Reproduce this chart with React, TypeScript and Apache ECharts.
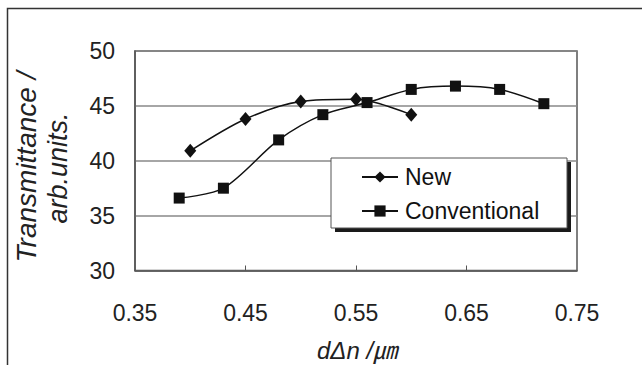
import React, { useEffect, useRef } from "react";
import * as echarts from "echarts";

const newX = [0.4, 0.45, 0.5, 0.55, 0.6];
const newY = [40.9, 43.8, 45.4, 45.6, 44.2];
const convX = [0.39, 0.43, 0.48, 0.52, 0.56, 0.6, 0.64, 0.68, 0.72];
const convY = [36.6, 37.5, 41.9, 44.2, 45.3, 46.5, 46.8, 46.5, 45.2];
const xLabelValues = [0.35, 0.45, 0.55, 0.65, 0.75];
const xTickValues = [0.45, 0.55, 0.65];
const seriesNames = ["New", "Conventional"];
const xTitle = "dΔn /㎛";
const yTitle = ["Transmittance /", "arb.units."];

const FONT = "'Liberation Sans', Arial, 'Noto Sans CJK JP', sans-serif";

export default function App() {
  const ref = useRef<HTMLDivElement>(null);
  useEffect(() => {
    if (!ref.current) return;
    const chart = echarts.init(ref.current, null, { renderer: "svg" });
    const pair = (xs: number[], ys: number[]) => xs.map((x, i) => [x, ys[i]]);
    chart.setOption({
      animation: false,
      backgroundColor: "#fff",
      textStyle: { fontFamily: FONT },
      grid: {
        left: 135,
        top: 51,
        right: 65,
        bottom: 94.5,
        show: true,
        borderColor: "#555",
        borderWidth: 1.5,
        backgroundColor: "transparent",
      },
      xAxis: {
        type: "value",
        min: 0.35,
        max: 0.75,
        axisLine: { show: true, lineStyle: { color: "#555", width: 1.5 } },
        axisTick: {
          show: true,
          inside: true,
          length: 5,
          customValues: xTickValues,
          lineStyle: { color: "#555", width: 1 },
        },
        axisLabel: {
          customValues: xLabelValues,
          formatter: (v: number) => v.toFixed(2),
          fontSize: 23,
          color: "#222",
          margin: 31,
          fontFamily: FONT,
        },
        splitLine: { show: false },
      },
      yAxis: {
        type: "value",
        min: 30,
        max: 50,
        interval: 5,
        axisLine: { show: true, lineStyle: { color: "#555", width: 1.5 } },
        axisTick: { show: false },
        axisLabel: { fontSize: 23, color: "#222", margin: 20, fontFamily: FONT },
        splitLine: { show: true, lineStyle: { color: "#888", width: 1.5 } },
      },
      legend: {
        orient: "vertical",
        left: 361,
        top: 165,
        itemWidth: 36,
        itemHeight: 14,
        itemGap: 10,
        padding: 0,
        z: 10,
        data: seriesNames,
        textStyle: { fontSize: 23, color: "#111", fontFamily: FONT, lineHeight: 24, padding: [0, 0, 0, 2] },
      },
      graphic: [
        {
          type: "rect",
          z: 0,
          silent: true,
          shape: { x: 7.5, y: 8.5, width: 700, height: 400 },
          style: { fill: "none", stroke: "#333", lineWidth: 1.5 },
        },
        {
          type: "rect",
          z: 3,
          shape: { x: 335, y: 162, width: 236, height: 70 },
          style: { fill: "#1a1a1a" },
        },
        {
          type: "rect",
          z: 4,
          shape: { x: 331, y: 158, width: 236, height: 70 },
          style: { fill: "#fff", stroke: "#555", lineWidth: 1 },
        },
        {
          type: "text",
          x: 26,
          y: 167,
          rotation: Math.PI / 2,
          style: {
            text: yTitle[0],
            fontSize: 28,
            fontStyle: "italic",
            fontFamily: FONT,
            fill: "#222",
            align: "center",
            verticalAlign: "middle",
          },
        },
        {
          type: "text",
          x: 58,
          y: 168,
          rotation: Math.PI / 2,
          style: {
            text: yTitle[1],
            fontSize: 27,
            fontStyle: "italic",
            fontFamily: FONT,
            fill: "#222",
            align: "center",
            verticalAlign: "middle",
          },
        },
        {
          type: "text",
          x: 357,
          y: 350,
          style: {
            text: xTitle,
            fontSize: 24,
            fontStyle: "italic",
            fontFamily: FONT,
            fill: "#222",
            align: "center",
            verticalAlign: "middle",
          },
        },
      ],
      series: [
        {
          name: seriesNames[0],
          type: "line",
          data: pair(newX, newY),
          smooth: 0.3,
          symbol: "diamond",
          symbolSize: [12, 14],
          lineStyle: { color: "#111", width: 1.5 },
          itemStyle: { color: "#111" },
          z: 2,
        },
        {
          name: seriesNames[1],
          type: "line",
          data: pair(convX, convY),
          smooth: 0.3,
          symbol: "rect",
          symbolSize: 11,
          lineStyle: { color: "#111", width: 1.5 },
          itemStyle: { color: "#111" },
          z: 2,
        },
      ],
    });
    return () => chart.dispose();
  }, []);
  return (
    <div
      ref={ref}
      style={{ position: "fixed", left: 0, top: 0, width: 642, height: 365 }}
    />
  );
}
